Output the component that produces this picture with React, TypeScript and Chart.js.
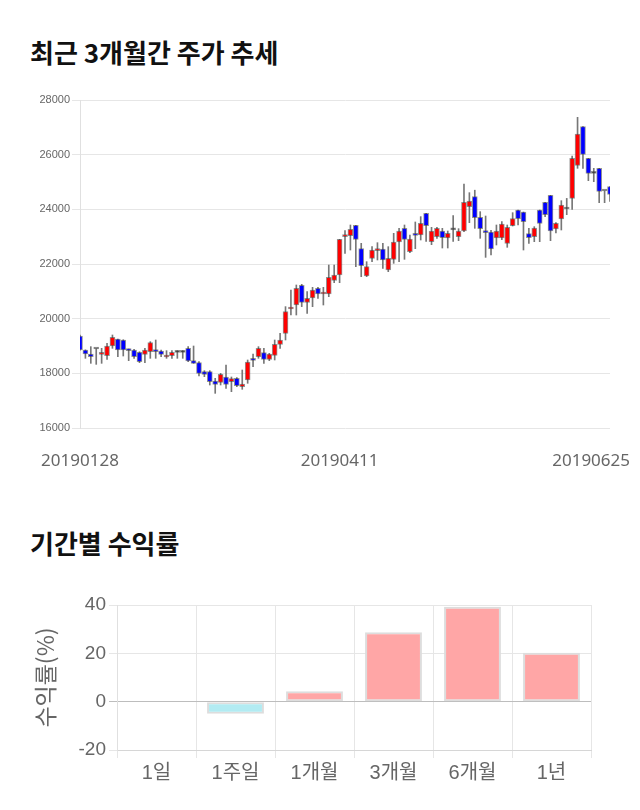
import React, { useEffect, useRef } from 'react';
import { Chart, registerables } from 'chart.js';

Chart.register(...registerables);

// ---- Candle data (최근 3개월간 주가 추세) ----
const opens = [
  19366, 18854, 18708, 18890, 18695, 18647, 19000, 19257, 19220, 18878,
  18854, 18769, 18695, 18793, 18854, 18817, 18598, 18647, 18769, 18769,
  18915, 18464, 18390, 18061, 18061, 17720, 17671, 17866, 17695, 17817,
  17512, 17756, 18525, 18610, 18756, 18512, 18659, 19061, 19464, 20354,
  20500, 21220, 20598, 20756, 21110, 20902, 20902, 21402, 21598, 23000,
  23037, 23415, 22561, 21561, 22207, 22488, 22549, 21780, 22171, 22805,
  23305, 22451, 23122, 23061, 23854, 22817, 23000, 23207, 22951, 23250,
  23000, 23207, 24098, 24464, 23707, 23207, 23170, 22951, 22951, 22756,
  23402, 23976, 23902, 23110, 23000, 23976, 24256, 24512, 23280, 23646,
  24012, 24403, 25610, 27025, 25866, 25318, 25500, 24671, 24830,
];
const highs = [
  19400, 18860, 18976, 18900, 18915, 19098, 19403, 19257, 19230, 18890,
  18880, 18790, 18915, 19159, 19220, 18854, 18830, 18830, 18830, 18830,
  18976, 19000, 18427, 18098, 18098, 17817, 18000, 18305, 17866, 17842,
  18122, 18488, 18708, 18976, 18915, 18732, 19220, 19464, 20440, 21050,
  21232, 21257, 20990, 21146, 21146, 21146, 21963, 21963, 22903, 23220,
  23427, 23415, 22756, 22085, 22634, 22780, 22756, 22634, 23122, 23305,
  23427, 23061, 23537, 23732, 23854, 23342, 23342, 23305, 23207, 23768,
  23293, 24927, 24610, 24700, 23915, 23756, 23232, 23427, 23549, 23427,
  23878, 23976, 23902, 23305, 23366, 23976, 24256, 24512, 23512, 24317,
  24400, 25951, 27367, 27025, 25866, 25500, 25500, 24671, 24830,
];
const lows = [
  18850, 18549, 18366, 18329, 18366, 18512, 18915, 18610, 18634, 18464,
  18549, 18390, 18390, 18549, 18549, 18610, 18549, 18549, 18549, 18549,
  18427, 18366, 17902, 17878, 17573, 17268, 17573, 17451, 17329, 17512,
  17415, 17635, 18244, 18549, 18366, 18464, 18488, 18915, 19220, 20134,
  20134, 20440, 20196, 20438, 20744, 20500, 20805, 21317, 21317, 22390,
  22512, 21902, 21537, 21537, 22085, 22146, 21842, 21720, 22024, 22085,
  22171, 22415, 22561, 22878, 22829, 22707, 22939, 22585, 22585, 22829,
  22854, 23183, 23512, 23305, 22939, 22243, 22329, 22695, 22890, 22610,
  23390, 23427, 22512, 22756, 22817, 22817, 23732, 22854, 23134, 23244,
  23805, 24000, 25500, 25500, 25049, 25013, 24244, 24244, 24293,
];
const closes = [
  18854, 18708, 18610, 18890, 18769, 19000, 19318, 18854, 18854, 18830,
  18610, 18427, 18854, 19122, 18793, 18695, 18671, 18769, 18769, 18769,
  18451, 18366, 18000, 17963, 17695, 17597, 17963, 17597, 17805, 17549,
  17610, 18415, 18476, 18915, 18512, 18708, 19061, 19220, 20257, 20403,
  21110, 20598, 20745, 21049, 20902, 20963, 21512, 21598, 22903, 23061,
  23269, 22903, 21939, 21902, 22512, 22549, 22146, 22207, 22805, 23208,
  22902, 22915, 23049, 23488, 23402, 23207, 23305, 22963, 23122, 23250,
  23207, 24256, 24305, 23695, 23293, 23146, 22548, 23207, 23463, 23341,
  23658, 23658, 23549, 22963, 23317, 23488, 23805, 23207, 23488, 24159,
  24012, 25866, 26757, 26013, 25318, 25318, 24659, 24671, 24549,
];
const dateTickLabels = ['20190128', '20190411', '20190625'];
const dateTickIndex = [0, 48, 98];
const priceMin = 16000;
const priceMax = 28000;
const priceStep = 2000;

// ---- Period returns (기간별 수익률) ----
const periodLabels = ['1일', '1주일', '1개월', '3개월', '6개월', '1년'];
const periodReturns = [0, -5.0, 4.3, 28.7, 39.3, 20.2];
const returnMin = -20;
const returnMax = 40;
const returnStep = 20;

const UP = '#ff0000';
const DOWN = '#0000ff';
const FLAT = '#333333';

const dateLabelPlugin = {
  id: 'dateLabels',
  afterDraw(chart: any) {
    const ctx = chart.ctx;
    const xs = chart.scales.x;
    ctx.save();
    ctx.font = '17px "Noto Sans", sans-serif';
    ctx.fillStyle = '#666';
    ctx.textAlign = 'center';
    ctx.textBaseline = 'middle';
    dateTickIndex.forEach((idx, k) => {
      const text = dateTickLabels[k];
      const w = ctx.measureText(text).width;
      let x = xs.getPixelForValue(idx);
      x = Math.min(Math.max(x, w / 2 + 2), chart.width - w / 2 - 2);
      ctx.fillText(text, x, chart.chartArea.bottom + 33);
    });
    ctx.restore();
  },
};

function CandleChart() {
  const ref = useRef<HTMLCanvasElement>(null);
  useEffect(() => {
    if (!ref.current) return;
    const labels = opens.map((_, i) => String(i));
    const bodyColors = opens.map((o, i) =>
      closes[i] > o ? UP : closes[i] < o ? DOWN : FLAT
    );
    const chart = new Chart(ref.current, {
      type: 'bar',
      data: {
        labels,
        datasets: [
          {
            label: 'wick',
            data: lows.map((l, i) => [l, highs[i]]) as any,
            backgroundColor: '#777',
            barThickness: 1,
            grouped: false,
            order: 2,
            borderSkipped: false,
          } as any,
          {
            label: 'body',
            data: opens.map((o, i) => [o, closes[i]]) as any,
            backgroundColor: bodyColors,
            borderColor: 'rgba(60,60,60,0.55)',
            borderWidth: 1,
            barThickness: 5,
            minBarLength: 2,
            grouped: false,
            order: 1,
            borderSkipped: false,
          } as any,
        ],
      },
      options: {
        animation: false,
        responsive: false,
        maintainAspectRatio: false,
        layout: { padding: { top: 15, right: 22, bottom: 52, left: 0 } },
        plugins: { legend: { display: false }, tooltip: { enabled: false } },
        scales: {
          x: {
            display: false,
            offset: false,
            grid: { display: false },
          },
          y: {
            min: priceMin,
            max: priceMax,
            afterFit: (s: any) => {
              s.width = 72;
            },
            ticks: {
              stepSize: priceStep,
              color: '#666',
              font: { size: 11, family: '"Liberation Sans", Arial, sans-serif' },
              padding: 2,
              callback: (v: any) => String(v),
            },
            grid: { color: '#e6e6e6', tickLength: 8 },
            border: { color: '#e0e0e0' },
          },
        },
      },
      plugins: [dateLabelPlugin],
    });
    return () => chart.destroy();
  }, []);
  return <canvas ref={ref} width={624} height={395} style={{ display: 'block' }} />;
}

function ReturnChart() {
  const ref = useRef<HTMLCanvasElement>(null);
  useEffect(() => {
    if (!ref.current) return;
    const chart = new Chart(ref.current, {
      type: 'bar',
      data: {
        labels: periodLabels,
        datasets: [
          {
            data: periodReturns,
            backgroundColor: periodReturns.map((v) => (v >= 0 ? '#ffa6a6' : '#b2ebf2')),
            borderColor: '#dddddd',
            borderWidth: 2,
            borderSkipped: false,
          } as any,
        ],
      },
      options: {
        animation: false,
        responsive: false,
        maintainAspectRatio: false,
        layout: { padding: { top: 25, right: 41, bottom: 15, left: 23 } },
        plugins: { legend: { display: false }, tooltip: { enabled: false } },
        scales: {
          x: {
            afterFit: (s: any) => {
              s.height = 40;
            },
            ticks: {
              color: '#666',
              font: { size: 20, family: '"Liberation Sans", "Noto Sans CJK KR", sans-serif' },
            },
            grid: { color: '#e6e6e6', tickLength: 8 },
            border: { color: '#d6d6d6' },
          },
          y: {
            min: returnMin,
            max: returnMax,
            afterFit: (s: any) => {
              s.width = 86;
            },
            title: {
              display: true,
              text: '수익률(%)',
              color: '#666',
              padding: 0,
              font: { size: 23, family: '"Noto Sans CJK KR", sans-serif' },
            },
            ticks: {
              stepSize: returnStep,
              color: '#666',
              font: { size: 19, family: '"Liberation Sans", Arial, sans-serif' },
            },
            grid: {
              color: (c: any) => (c.tick && c.tick.value === 0 ? '#bdbdbd' : '#e6e6e6'),
              tickLength: 8,
            },
            border: { color: '#e0e0e0' },
          },
        },
      },
    });
    return () => chart.destroy();
  }, []);
  return <canvas ref={ref} width={624} height={225} style={{ display: 'block' }} />;
}

const titleStyle: React.CSSProperties = {
  position: 'absolute',
  left: 22,
  margin: 0,
  fontFamily: '"Noto Sans CJK KR", sans-serif',
  fontWeight: 700,
  fontSize: 26,
  lineHeight: '30px',
  color: '#111',
};

export default function App() {
  return (
    <div style={{ position: 'relative', width: 624, height: 802 }}>
      <div style={{ ...titleStyle, top: 29 }}>최근 3개월간 주가 추세</div>
      <div style={{ position: 'absolute', left: 0, top: 77 }}>
        <CandleChart />
      </div>
      <div style={{ ...titleStyle, top: 520 }}>기간별 수익률</div>
      <div style={{ position: 'absolute', left: 0, top: 572 }}>
        <ReturnChart />
      </div>
    </div>
  );
}
